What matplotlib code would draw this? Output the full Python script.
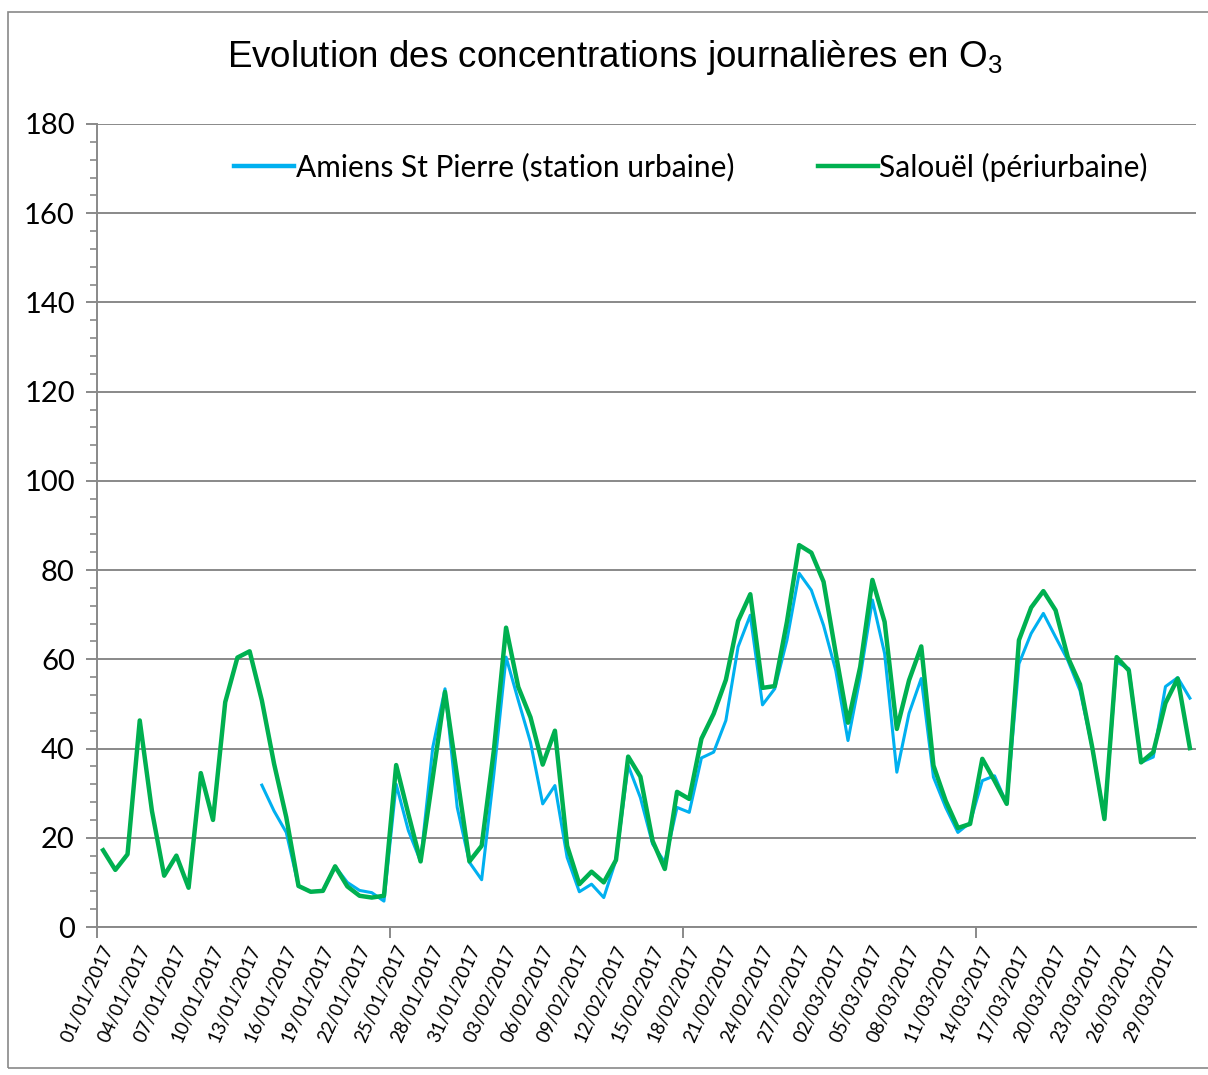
"""Evolution des concentrations journalières en O3 (Amiens / Salouël),
janvier-mars 2017. Writes out.png."""

import numpy as np
import pandas as pd
import matplotlib
matplotlib.use("Agg")
import matplotlib.pyplot as plt
from matplotlib.patches import Rectangle
from matplotlib.ticker import MultipleLocator, FixedLocator
from matplotlib.transforms import ScaledTranslation

# ── Data ──────────────────────────────────────────────────────────────
dates = pd.date_range("2017-01-01", "2017-03-31", freq="D")
labels = [d.strftime("%d/%m/%Y") for d in dates]

nan = np.nan
amiens = [
    nan, nan, nan, nan, nan, nan, nan, nan, nan, nan,
    nan, nan, nan, 31.8, 26.0, 21.2, 9.2, 7.9, 8.1, 13.6,
    10.0, 8.2, 7.7, 5.8, 32.0, 21.6, 14.7, 40.3, 53.4, 26.8,
    14.5, 10.6, 34.3, 60.5, 50.8, 41.4, 27.6, 31.7, 15.6, 7.9,
    9.6, 6.6, 15.0, 36.2, 29.0, 18.6, 14.5, 26.8, 25.7, 37.9,
    39.2, 46.3, 62.8, 69.9, 49.8, 53.4, 64.3, 79.3, 75.5, 67.6,
    57.5, 41.8, 56.0, 73.3, 61.3, 34.7, 47.9, 55.7, 33.6, 26.8,
    21.2, 23.4, 32.8, 33.9, 27.6, 59.0, 65.8, 70.3, 65.0, 59.8,
    53.0, 40.3, 24.2, 59.4, 57.9, 36.9, 38.1, 53.9, 55.9, 51.3,
]
salouel = [
    17.2, 12.8, 16.3, 46.3, 26.0, 11.5, 16.0, 8.8, 34.5, 24.0,
    50.4, 60.4, 61.8, 50.8, 36.6, 24.6, 9.2, 7.9, 8.1, 13.6,
    9.1, 7.0, 6.6, 7.0, 36.3, 25.3, 14.7, 33.6, 52.7, 33.6,
    14.7, 18.2, 39.6, 67.1, 53.8, 47.0, 36.4, 44.0, 18.2, 9.6,
    12.4, 10.0, 15.0, 38.2, 33.7, 19.3, 13.0, 30.3, 28.7, 42.2,
    47.8, 55.4, 68.6, 74.6, 53.6, 54.0, 68.4, 85.6, 83.9, 77.4,
    61.3, 45.8, 58.3, 77.8, 68.4, 44.4, 55.3, 62.9, 36.2, 28.3,
    22.2, 23.1, 37.7, 32.8, 27.6, 64.3, 71.6, 75.3, 71.0, 60.5,
    54.4, 40.3, 24.2, 60.5, 57.5, 36.9, 39.2, 50.2, 55.7, 40.1,
]

# ── Plot ──────────────────────────────────────────────────────────────
plt.rcParams["mathtext.fontset"] = "custom"
plt.rcParams["mathtext.rm"] = "Liberation Sans"
plt.rcParams["mathtext.it"] = "Liberation Sans:italic"

GRID = "#898989"
SANS = ["Lato", "DejaVu Sans"]
W, H = 1208, 1075
fig = plt.figure(figsize=(W / 100, H / 100), dpi=100)
fig.patches.append(Rectangle((8 / W, 1 - 1068 / H), 1.2, 1056 / H,
                             transform=fig.transFigure, fill=False,
                             edgecolor=GRID, linewidth=1.2))

ax = fig.add_axes([97 / W, 1 - 927 / H, 1099 / W, 803 / H])
x = np.arange(len(dates))

ax.plot(x, amiens, color="#00B0F0", linewidth=2.2,
        label="Amiens St Pierre (station urbaine)", zorder=3)
ax.plot(x, salouel, color="#00B050", linewidth=3.2,
        label="Salouël (périurbaine)", zorder=4)

ax.set_xlim(-0.5, len(dates) - 0.5)
ax.set_ylim(0, 180)

# y axis
ax.yaxis.set_major_locator(MultipleLocator(20))
ax.yaxis.set_minor_locator(MultipleLocator(4))
ax.grid(axis="y", which="major", color=GRID, linewidth=1.4, zorder=0)
ax.tick_params(axis="y", which="major", length=8, width=1.4, color=GRID,
               labelsize=21, pad=8)
ax.tick_params(axis="y", which="minor", length=5, width=1.2, color=GRID)

# x axis: labels every 3 days, tick marks every 24 days between categories
ax.set_xticks(x[::3])
ax.set_xticklabels(labels[::3], rotation=66, ha="right", va="center",
                   rotation_mode="anchor", fontsize=13.5)
ax.xaxis.set_minor_locator(FixedLocator(np.arange(-0.5, len(dates), 24)))
ax.tick_params(axis="x", which="major", length=0, pad=14)
ax.tick_params(axis="x", which="minor", length=8, width=1.4, color=GRID)

shift = ScaledTranslation(6 / 100, 0, fig.dpi_scale_trans)
for lab in ax.get_xticklabels():
    lab.set_transform(lab.get_transform() + shift)

for side in ("top", "right"):
    ax.spines[side].set_visible(False)
for side in ("left", "bottom"):
    ax.spines[side].set_color(GRID)
    ax.spines[side].set_linewidth(1.4)

for lab in ax.get_xticklabels() + ax.get_yticklabels():
    lab.set_family(SANS)

leg = ax.legend(loc="center", bbox_to_anchor=(0.5405, 0.9465), ncol=2,
                frameon=False, handlelength=2.0, handletextpad=0.05,
                columnspacing=2.8, borderpad=0,
                prop={"family": SANS, "size": 21.5})
for line in leg.get_lines():
    line.set_linewidth(3.2)

fig.text(0.509, 1 - 67 / H, "Evolution des concentrations journalières en O$_3$",
         ha="center", va="baseline", fontsize=26.5, family="Liberation Sans")

fig.savefig("out.png", dpi=100)
